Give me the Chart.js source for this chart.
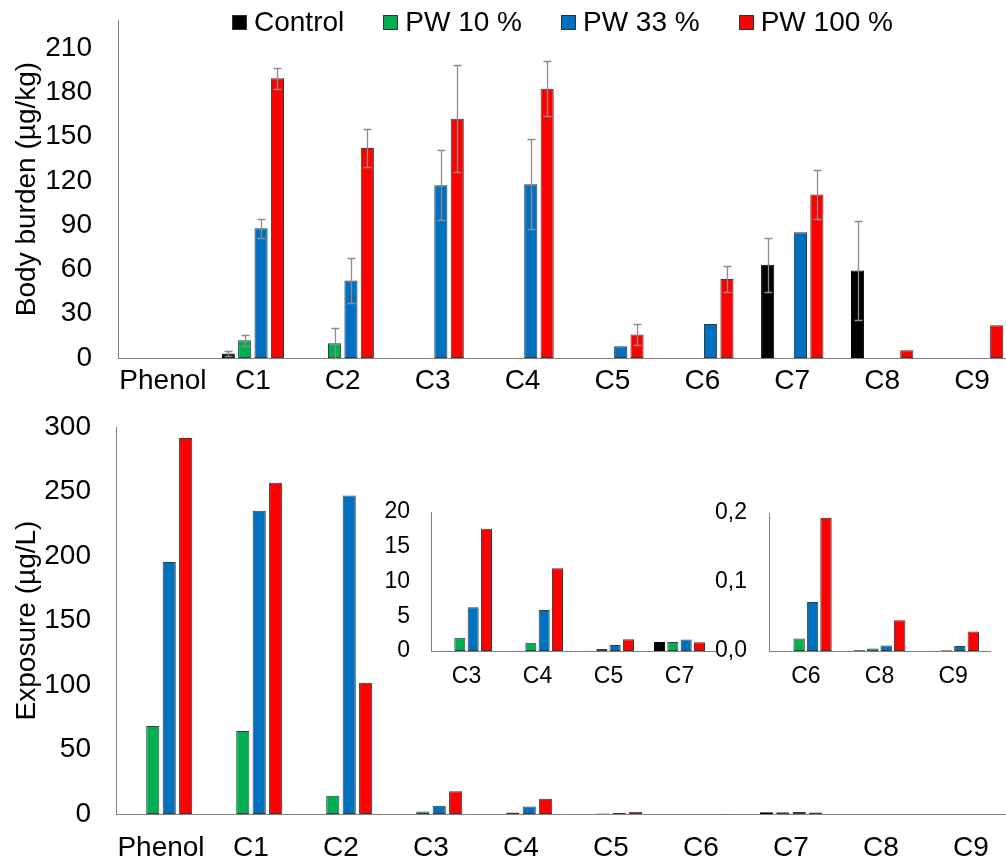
<!DOCTYPE html>
<html>
<head>
<meta charset="utf-8">
<script src="https://cdn.jsdelivr.net/npm/chart.js@4.4.1/dist/chart.umd.min.js"></script>
<style>
  body { margin: 0; background: #fff; }
  #wrap { position: relative; width: 1006px; height: 864px; overflow: hidden; background: #fff;
          font-family: 'Liberation Sans', Arial, sans-serif; }
  canvas { position: absolute; }
  #legend { position: absolute; left: 232px; top: 4px; display: flex; gap: 39px;
            font-size: 28px; line-height: 36px; color: #000; }
  .item { display: flex; align-items: center; }
  .box { width: 13px; height: 13px; border: 1px solid #333; margin-right: 7px; }
</style>
</head>
<body>
<div id="wrap">
  <canvas id="burden" width="1030" height="400" style="left:0;top:0"></canvas>
  <canvas id="exposure" width="1030" height="464" style="left:0;top:400px"></canvas>
  <canvas id="insetA" width="340" height="205" style="left:380px;top:490px"></canvas>
  <canvas id="insetB" width="300" height="205" style="left:700px;top:490px"></canvas>
  <div id="legend"></div>
</div>
<script>
const categories = ['Phenol', 'C1', 'C2', 'C3', 'C4', 'C5', 'C6', 'C7', 'C8', 'C9'];
const seriesNames = ['Control', 'PW 10 %', 'PW 33 %', 'PW 100 %'];
const seriesColors = ['#000000', '#00B050', '#0070C0', '#FF0000'];

// body burden, µg/kg (mean and error)
const burdenControl = [0, 3.0, 0, 0, 0, 0, 0, 63.1, 59.3, 0];
const burdenPW10 = [0, 12.0, 10.0, 0, 0, 0, 0, 0, 0, 0];
const burdenPW33 = [0, 87.9, 52.5, 117.1, 117.8, 7.9, 23.1, 85.2, 0, 0];
const burdenPW100 = [0, 189.5, 142.2, 162.1, 182.4, 15.9, 53.6, 110.8, 5.2, 22.2];
const burdenErrControl = [0, 1.5, 0, 0, 0, 0, 0, 18.5, 33.4, 0];
const burdenErrPW10 = [0, 3.9, 10.0, 0, 0, 0, 0, 0, 0, 0];
const burdenErrPW33 = [0, 6.6, 15.3, 23.5, 30.3, 0, 0, 0, 0, 0];
const burdenErrPW100 = [0, 7.2, 12.7, 36.2, 18.6, 6.9, 8.6, 16.5, 0, 0];

// exposure, µg/L
const exposureControl = [0, 0, 0, 0.02, 0.02, 0.02, 0, 1.3, 0.001, 0.0005];
const exposurePW10 = [68.3, 64.4, 14.2, 1.9, 1.2, 0.3, 0.018, 1.3, 0.0035, 0.0012];
const exposurePW33 = [195.4, 235.0, 246.9, 6.3, 5.9, 0.87, 0.071, 1.64, 0.008, 0.0074];
const exposurePW100 = [291.5, 256.7, 101.7, 17.6, 11.9, 1.7, 0.193, 1.25, 0.0445, 0.0284];

const insetACategories = ['C3', 'C4', 'C5', 'C7'];
const insetBCategories = ['C6', 'C8', 'C9'];

const burdenTicks = [0, 30, 60, 90, 120, 150, 180, 210];
const exposureTicks = [0, 50, 100, 150, 200, 250, 300];
const insetATicks = [0, 5, 10, 15, 20];
const insetBTicks = [0, 0.1, 0.2];
const insetBTickLabels = ['0,0', '0,1', '0,2'];

Chart.defaults.font.family = "'Liberation Sans', Arial, sans-serif";
Chart.defaults.color = '#000';

const AXIS = '#808080';

const errorBars = {
  id: 'errorBars',
  afterDatasetsDraw(chart) {
    const ctx = chart.ctx, y = chart.scales.y;
    ctx.save();
    ctx.strokeStyle = '#8c8c8c';
    ctx.lineWidth = 1.3;
    chart.data.datasets.forEach((ds, i) => {
      if (!ds.errors) return;
      chart.getDatasetMeta(i).data.forEach((bar, j) => {
        const e = ds.errors[j];
        if (!e) return;
        const v = ds.data[j];
        const top = Math.round(y.getPixelForValue(v + e)) + 0.5;
        const bot = Math.round(y.getPixelForValue(Math.max(0, v - e))) + 0.5;
        const x = Math.round(bar.x) + 0.5;
        ctx.beginPath();
        ctx.moveTo(x, top); ctx.lineTo(x, bot);
        ctx.moveTo(x - 4, top); ctx.lineTo(x + 4, top);
        ctx.moveTo(x - 4, bot); ctx.lineTo(x + 4, bot);
        ctx.stroke();
      });
    });
    ctx.restore();
  }
};

function pick(arr, names) {
  return names.map(n => arr[categories.indexOf(n)]);
}

function makeDatasets(seriesData, errs) {
  return seriesData.map((d, i) => ({
    label: seriesNames[i],
    data: d,
    errors: errs ? errs[i] : null,
    backgroundColor: seriesColors[i],
    borderColor: i === 0 ? '#000' : '#3a3a3a',
    borderWidth: 1,
    borderSkipped: false
  }));
}

// no extra room for overhanging tick labels, layout.padding decides the plot area
function noOverhang(s) {
  s.paddingTop = 0; s.paddingBottom = 0; s.paddingLeft = 0; s.paddingRight = 0;
}

function makeChart(id, cfg) {
  return new Chart(document.getElementById(id), {
    type: 'bar',
    data: { labels: cfg.labels, datasets: makeDatasets(cfg.series, cfg.errors) },
    plugins: cfg.errors ? [errorBars] : [],
    options: {
      responsive: false,
      animation: false,
      layout: { padding: cfg.padding },
      datasets: { bar: { categoryPercentage: cfg.catPct, barPercentage: cfg.barPct } },
      plugins: { legend: { display: false }, tooltip: { enabled: false } },
      scales: {
        x: {
          grid: { display: false, drawTicks: false },
          border: { display: true, color: AXIS, width: 1 },
          ticks: { font: { size: cfg.fontSize }, padding: cfg.xPad, maxRotation: 0, autoSkip: false },
          afterFit: s => { s.height = cfg.xHeight; noOverhang(s); }
        },
        y: {
          min: 0,
          max: cfg.yMax,
          grid: { display: false, drawTicks: false },
          border: { display: true, color: AXIS, width: 1 },
          ticks: {
            font: { size: cfg.fontSize },
            padding: cfg.yPad,
            callback: cfg.tickLabels ? (v, i) => cfg.tickLabels[i] : undefined
          },
          afterBuildTicks: s => { s.ticks = cfg.ticks.map(v => ({ value: v })); },
          afterFit: s => { s.width = cfg.yWidth; noOverhang(s); },
          title: {
            display: !!cfg.title,
            text: cfg.title,
            font: { size: 28 },
            padding: { top: 10, bottom: 0 }
          }
        }
      }
    }
  });
}

makeChart('burden', {
  labels: categories,
  series: [burdenControl, burdenPW10, burdenPW33, burdenPW100],
  errors: [burdenErrControl, burdenErrPW10, burdenErrPW33, burdenErrPW100],
  yMax: 229, ticks: burdenTicks, title: 'Body burden (µg/kg)',
  fontSize: 28, yWidth: 118, yPad: 26, xHeight: 42, xPad: 6,
  padding: { top: 20, right: 13, left: 0, bottom: 0 },
  catPct: 0.73, barPct: 0.8
});

makeChart('exposure', {
  labels: categories,
  series: [exposureControl, exposurePW10, exposurePW33, exposurePW100],
  yMax: 300, ticks: exposureTicks, title: 'Exposure (µg/L)',
  fontSize: 28, yWidth: 116, yPad: 25, xHeight: 50, xPad: 17,
  padding: { top: 27, right: 14, left: 0, bottom: 0 },
  catPct: 0.73, barPct: 0.8
});

makeChart('insetA', {
  labels: insetACategories,
  series: [exposureControl, exposurePW10, exposurePW33, exposurePW100].map(a => pick(a, insetACategories)),
  yMax: 20, ticks: insetATicks,
  fontSize: 23, yWidth: 51, yPad: 21, xHeight: 44, xPad: 12,
  padding: { top: 22, right: 5, left: 0, bottom: 0 },
  catPct: 0.75, barPct: 0.83
});

makeChart('insetB', {
  labels: insetBCategories,
  series: [exposureControl, exposurePW10, exposurePW33, exposurePW100].map(a => pick(a, insetBCategories)),
  yMax: 0.2, ticks: insetBTicks, tickLabels: insetBTickLabels,
  fontSize: 23, yWidth: 69, yPad: 22, xHeight: 44, xPad: 12,
  padding: { top: 23, right: 10, left: 0, bottom: 0 },
  catPct: 0.73, barPct: 0.85
});

const legend = document.getElementById('legend');
seriesNames.forEach((name, i) => {
  const item = document.createElement('div');
  item.className = 'item';
  const box = document.createElement('span');
  box.className = 'box';
  box.style.background = seriesColors[i];
  const txt = document.createElement('span');
  txt.textContent = name;
  item.appendChild(box);
  item.appendChild(txt);
  legend.appendChild(item);
});
</script>
</body>
</html>
